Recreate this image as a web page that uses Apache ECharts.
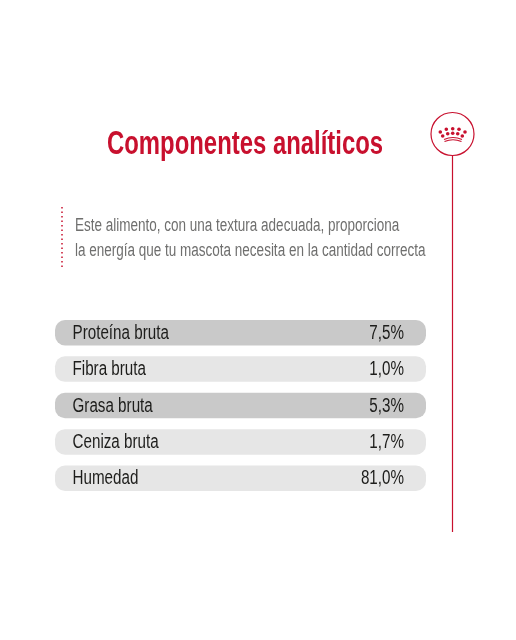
<!DOCTYPE html>
<html><head><meta charset="utf-8">
<style>html,body{margin:0;padding:0;background:#fff}#c{width:516px;height:640px}</style>
<script src="https://cdn.jsdelivr.net/npm/echarts@6/dist/echarts.min.js"></script>
</head><body><div id="c"></div>
<script>
const titleText = 'Componentes analíticos';
const introLines = ['Este alimento, con una textura adecuada, proporciona','la energía que tu mascota necesita en la cantidad correcta'];
const categories = ['Proteína bruta','Fibra bruta','Grasa bruta','Ceniza bruta','Humedad'];
const valueLabels = ['7,5%','1,0%','5,3%','1,7%','81,0%'];
const rowTrack = [1,1,1,1,1];
const rowColors = ['#c9c9c9','#e6e6e6','#c9c9c9','#e6e6e6','#e6e6e6'];
const crownDots = [[440.3,132],[446.3,129.3],[452.7,128.7],[459,129.3],[465,132],[442.7,136],[447.7,133.7],[452.7,133.3],[457.7,133.7],[462.3,136]];
const RED = '#c8102e';
const FONT = '"Liberation Sans",sans-serif';
const NARROW = 0.76;
const chart = echarts.init(document.getElementById('c'), null, {renderer:'canvas'});
function renderRow(params, api){
  const i = api.value(0);
  const start = api.coord([0,i]);
  const end = api.coord([api.value(1),i]);
  const h = 25.5;
  return {type:'group',children:[
    {type:'rect',shape:{x:start[0],y:start[1]-h/2,width:end[0]-start[0],height:h,r:10},style:{fill:rowColors[i]}},
    {type:'text',x:start[0]+17.5,y:start[1]+0.5,scaleX:NARROW,style:{text:categories[i],fill:'#1d1d1b',font:'20px '+FONT,textAlign:'left',textVerticalAlign:'middle'}},
    {type:'text',x:end[0]-22,y:start[1]+0.5,scaleX:NARROW,style:{text:valueLabels[i],fill:'#1d1d1b',font:'20px '+FONT,textAlign:'right',textVerticalAlign:'middle'}}
  ]};
}
chart.setOption({
  animation:false,
  backgroundColor:'#fff',
  grid:{left:55,right:90,top:314.5,height:182},
  xAxis:{type:'value',min:0,max:1,show:false},
  yAxis:{type:'category',inverse:true,data:categories,show:false},
  series:[{type:'custom',renderItem:renderRow,data:rowTrack.map((v,i)=>[i,v]),encode:{x:1,y:0}}],
  graphic:[
    {type:'text',x:107,y:145,scaleX:0.724,style:{text:titleText,fill:RED,font:'bold 33px '+FONT,textVerticalAlign:'middle'}},
    {type:'text',x:75,y:226,scaleX:0.75,style:{text:introLines[0],fill:'#6f6f6e',font:'18px '+FONT,textVerticalAlign:'middle'}},
    {type:'text',x:75,y:251,scaleX:0.75,style:{text:introLines[1],fill:'#6f6f6e',font:'18px '+FONT,textVerticalAlign:'middle'}},
    {type:'line',shape:{x1:62,y1:207,x2:62,y2:270},style:{stroke:RED,lineWidth:1.5,lineDash:[1.5,3]}},
    {type:'circle',shape:{cx:452.5,cy:134,r:21.5},style:{fill:'#fff',stroke:RED,lineWidth:1.2}},
    {type:'line',shape:{x1:452.5,y1:155.5,x2:452.5,y2:532},style:{stroke:RED,lineWidth:1.2}},
    ...crownDots.map(d=>({type:'circle',shape:{cx:d[0],cy:d[1],r:1.8},style:{fill:RED}})),
    {type:'bezierCurve',shape:{x1:444,y1:139.5,cpx1:453,cpy1:135.5,x2:462,y2:139.5},style:{fill:'none',stroke:RED,lineWidth:1.2}},
    {type:'bezierCurve',shape:{x1:444.5,y1:141.5,cpx1:453,cpy1:138,x2:461.5,y2:141.5},style:{fill:'none',stroke:RED,lineWidth:1.2}}
  ]
});
</script></body></html>
